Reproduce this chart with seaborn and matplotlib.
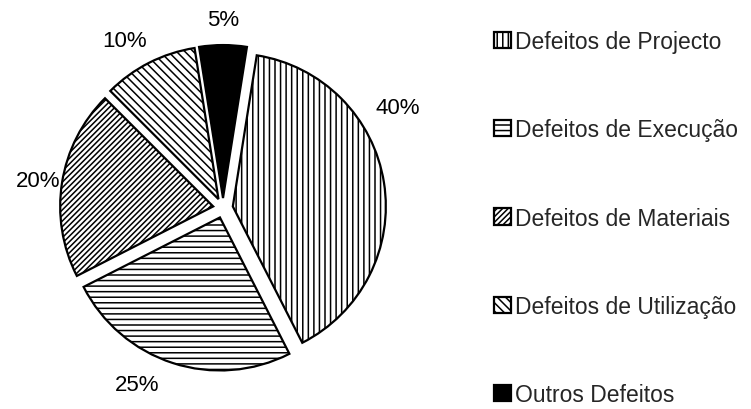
import matplotlib
matplotlib.use("Agg")
import numpy as np
import matplotlib.pyplot as plt
import seaborn as sns

categories = ["Defeitos de Projecto", "Defeitos de Execução", "Defeitos de Materiais",
              "Defeitos de Utilização", "Outros Defeitos"]
values = [40, 25, 20, 10, 5]
labels = ["40%", "25%", "20%", "10%", "5%"]
hatches = ["|||", "---", "//////", "\\\\\\\\", ""]
fills = ["white", "white", "white", "white", "black"]
# label placement (Excel "best fit" style): angle in degrees, distance in radii
label_angles = [30, 244, 171.6, 120.4, 90]
label_dists = [1.32, 1.28, 1.22, 1.27, 1.235]

sns.set_theme(style="white")
plt.rcParams['font.family'] = ['Liberation Sans', 'DejaVu Sans']
plt.rcParams['hatch.linewidth'] = 1.1
plt.rcParams['hatch.color'] = 'black'

fig = plt.figure(figsize=(7.51, 4.10), dpi=100)
R_px = 153
cx, cy = 223, 209
ax = fig.add_axes([(cx - 1.25 * R_px) / 751, (410 - cy - 1.25 * R_px) / 410,
                   2.5 * R_px / 751, 2.5 * R_px / 410])

wedges, _ = ax.pie(
    values, startangle=81, counterclock=False,
    explode=[0.065] * len(values), colors=fills,
    wedgeprops=dict(edgecolor="black", linewidth=1.6))
for w, h in zip(wedges, hatches):
    w.set_hatch(h)

for lab, ang, dist in zip(labels, label_angles, label_dists):
    a = np.deg2rad(ang)
    ax.text(dist * np.cos(a), dist * np.sin(a), lab, ha="center", va="center",
            fontsize=16, color="black")

leg = fig.legend(wedges, categories, loc="upper left",
                 bbox_to_anchor=(494/751, 1 - 31/410), frameon=False,
                 fontsize=16.5, handlelength=0.72, handleheight=0.72,
                 handletextpad=0.2, labelspacing=2.85, borderaxespad=0,
                 borderpad=0)

fig.savefig("out.png", dpi=100, facecolor="white")
